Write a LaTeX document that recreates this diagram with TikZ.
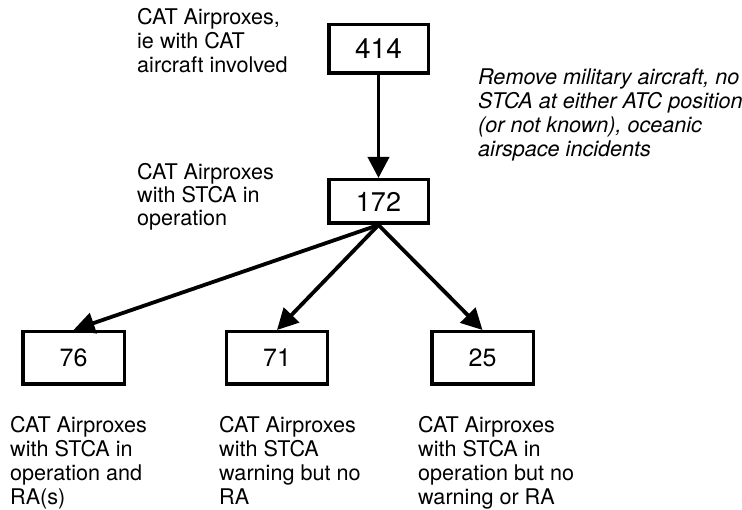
\documentclass[tikz,border=0pt]{standalone}
\usepackage{fontspec}
\setmainfont{TeX Gyre Heros}
\usetikzlibrary{arrows.meta}
\begin{document}
\begin{tikzpicture}[x=1pt,y=-1pt,
  numbox/.style={draw, line width=3.5pt, inner sep=0pt, font=\fontsize{25}{28}\selectfont},
  lbl/.style={align=left, inner sep=0pt, anchor=base west, font=\fontsize{21.6}{24}\selectfont},
  arr/.style={line width=3.8pt, -{Triangle[length=21pt,width=21pt]}}]
\useasboundingbox (0,0) rectangle (742,510);
\node[numbox, minimum width=99.5pt, minimum height=48.5pt, font=\fontsize{28}{30}\selectfont] (n414) at (378.5,49) {414};
\node[numbox, minimum width=99.5pt, minimum height=43.5pt, font=\fontsize{27}{29}\selectfont] (n172) at (378.5,201.5) {172};
\node[numbox, minimum width=101.5pt, minimum height=52.5pt] (n76) at (73.5,358) {76};
\node[numbox, minimum width=101pt, minimum height=52.5pt] (n71) at (277,358) {71};
\node[numbox, minimum width=101.5pt, minimum height=52.5pt] (n25) at (482.5,358) {25};
\draw[arr] (n414) -- (n172);
\draw[arr] (n172.south) -- (n76.north);
\draw[arr] (n172.south) -- (n71.north);
\draw[arr] (n172.south) -- (n25.north);
\node[lbl] (t1) at (137,73) {CAT Airproxes,\\ie with CAT\\aircraft involved};
\node[lbl, font=\fontsize{21.6}{23}\selectfont] (t2) at (137,226) {CAT Airproxes\\with STCA in\\operation};
\node[lbl, font=\fontsize{21.6}{24}\selectfont\itshape] (t3) at (478,157) {Remove military aircraft, no\\STCA at either ATC position\\(or not known), oceanic\\airspace incidents};
\node[lbl] (t4) at (10,504) {CAT Airproxes\\with STCA in\\operation and\\RA(s)};
\node[lbl] (t5) at (219,504) {CAT Airproxes\\with STCA\\warning but no\\RA};
\node[lbl] (t6) at (418,504) {CAT Airproxes\\with STCA in\\operation but no\\warning or RA};
\end{tikzpicture}
\end{document}
